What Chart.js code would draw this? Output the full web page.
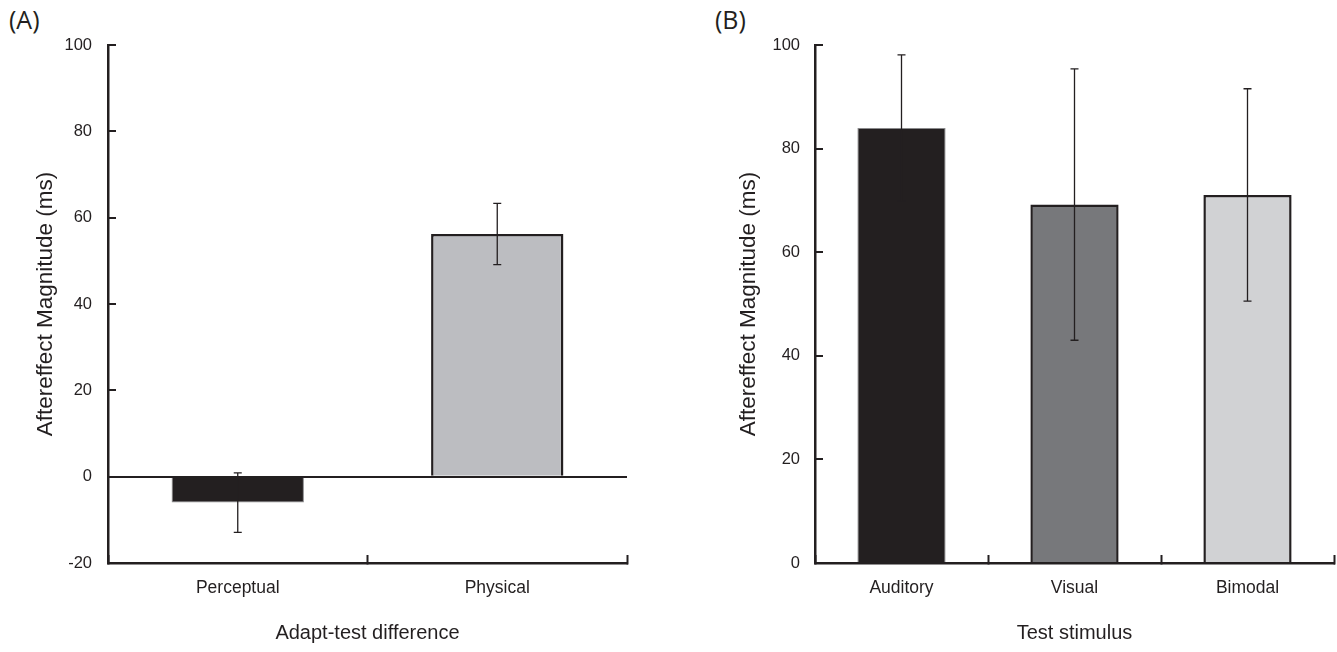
<!DOCTYPE html>
<html>
<head>
<meta charset="utf-8">
<script src="https://cdn.jsdelivr.net/npm/chart.js@4/dist/chart.umd.min.js"></script>
<style>
  body { margin: 0; background: #fff; }
  #wrap { position: relative; width: 1337px; height: 652px; }
  canvas { position: absolute; top: 0; }
  .panel { position: absolute; font-family: "Open Sans", "Liberation Sans", sans-serif; font-size: 25px; color: #231f20; }
</style>
</head>
<body>
<div id="wrap">
  <div class="panel" style="left:9px; top:2px;">(A)</div>
  <div class="panel" style="left:715px; top:2px;">(B)</div>
  <canvas id="chartA" width="668" height="652" style="left:0"></canvas>
  <canvas id="chartB" width="669" height="652" style="left:668px"></canvas>
</div>
<script>
  // panel A
  var labelsA = ['Perceptual', 'Physical'];
  var valuesA = [-6, 56.2];
  var errA = [6.9, 7.1];
  var colorsA = ['#231f20', '#bcbdc1'];
  var ticksA = [-20, 0, 20, 40, 60, 80, 100];

  // panel B
  var labelsB = ['Auditory', 'Visual', 'Bimodal'];
  var valuesB = [84.0, 69.2, 71.05];
  var errB = [14.1, 26.2, 20.5];
  var colorsB = ['#231f20', '#77787b', '#d1d2d4'];
  var ticksB = [0, 20, 40, 60, 80, 100];

  var ink = '#231f20';
  var fontFam = '"Liberation Sans", Arial, sans-serif';

  // error bars drawn on top of the bars
  var errorBars = {
    id: 'errorBars',
    afterDatasetsDraw: function (chart, args, opts) {
      var ctx = chart.ctx;
      var y = chart.scales.y;
      var meta = chart.getDatasetMeta(0);
      var vals = chart.data.datasets[0].data;
      ctx.save();
      ctx.strokeStyle = ink;
      ctx.lineWidth = 1.3;
      meta.data.forEach(function (bar, i) {
        var e = opts.errors[i];
        var top = y.getPixelForValue(vals[i] + e);
        var bot = y.getPixelForValue(vals[i] - e);
        ctx.beginPath();
        ctx.moveTo(bar.x, top); ctx.lineTo(bar.x, bot);
        ctx.moveTo(bar.x - 4, top); ctx.lineTo(bar.x + 4, top);
        ctx.moveTo(bar.x - 4, bot); ctx.lineTo(bar.x + 4, bot);
        ctx.stroke();
      });
      ctx.restore();
    }
  };

  function makeChart(id, labels, values, errs, colors, tickVals, o) {
    var borders = colors.map(function (c) { return c === ink ? '#8a8a8c' : ink; });
    var widths = colors.map(function (c) { return c === ink ? 1 : 2.5; });
    return new Chart(document.getElementById(id), {
      type: 'bar',
      data: {
        labels: labels,
        datasets: [{
          data: values,
          backgroundColor: colors,
          borderColor: borders,
          borderWidth: widths,
          categoryPercentage: 1,
          barPercentage: 0.51
        }]
      },
      options: {
        responsive: false,
        devicePixelRatio: 1,
        animation: false,
        layout: { padding: { left: 0, top: 45, right: o.padRight, bottom: 0 } },
        plugins: {
          legend: { display: false },
          tooltip: { enabled: false },
          errorBars: { errors: errs }
        },
        scales: {
          x: {
            afterFit: function (s) { s.height = 89; },
            grid: {
              offset: true,
              drawOnChartArea: false,
              tickLength: -8,
              tickWidth: 2,
              tickColor: ink
            },
            border: { color: ink, width: 2.5 },
            ticks: { color: ink, padding: 22.5, font: { family: fontFam, size: 17.5 } },
            title: {
              display: true,
              text: o.xTitle,
              color: ink,
              font: { family: fontFam, size: 20 },
              padding: { top: 0, bottom: 7 }
            }
          },
          y: {
            min: tickVals[0],
            max: tickVals[tickVals.length - 1],
            afterFit: function (s) { s.width = o.yWidth; },
            afterBuildTicks: function (s) {
              s.ticks = tickVals.map(function (v) { return { value: v }; });
            },
            grid: {
              drawOnChartArea: o.zeroLine,
              color: function (c) { return c.tick && c.tick.value === 0 ? ink : 'rgba(0,0,0,0)'; },
              lineWidth: 2,
              tickLength: -8,
              tickWidth: 2,
              tickColor: ink
            },
            border: { color: ink, width: 2.5 },
            ticks: { color: ink, padding: o.tickPad, font: { family: fontFam, size: 16.5 } },
            title: {
              display: true,
              text: 'Aftereffect Magnitude (ms)',
              color: ink,
              font: { family: fontFam, size: 22.5 },
              padding: { top: o.yTitlePad, bottom: 0 }
            }
          }
        }
      },
      plugins: [errorBars]
    });
  }

  makeChart('chartA', labelsA, valuesA, errA, colorsA, ticksA,
    { padRight: 41, yWidth: 108, tickPad: 24, yTitlePad: 32.5, zeroLine: true, xTitle: 'Adapt-test difference' });
  makeChart('chartB', labelsB, valuesB, errB, colorsB, ticksB,
    { padRight: 3, yWidth: 147, tickPad: 23, yTitlePad: 67.5, zeroLine: false, xTitle: 'Test stimulus' });
</script>
</body>
</html>
